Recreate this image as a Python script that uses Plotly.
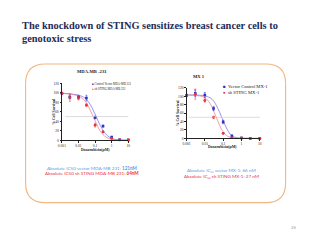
import plotly.graph_objects as go

# ---------------- data ----------------
dose = [0.001, 0.003, 0.01, 0.03, 0.1, 0.3, 1, 3, 10]

# MDA-MB-231
mda_ctrl = [99, 91, 91, 89, 48, 30, 7, 1.5, 1]
mda_ctrl_err = [2, 4, 4, 6, 3, 2, 1, 1, 0.5]
mda_sh = [99, 90, 89, 74, 32, 18, 4, 1, 1]
mda_sh_err = [2, 8, 4, 3, 4, 2, 1, 0.5, 0.5]

# fitted curves
curve_dose = [0.001, 0.002, 0.005, 0.01, 0.02, 0.03, 0.05, 0.08, 0.1, 0.15, 0.2, 0.3, 0.5, 1, 2, 3, 10]
mda_ctrl_fit = [99, 98.5, 97, 95, 91, 86, 76, 62, 55, 41, 32, 21, 11, 4, 1.5, 1, 0.5]
mda_sh_fit = [99, 98, 96, 93, 86, 79, 64, 48, 41, 28, 20, 12, 6, 2, 1, 0.5, 0.3]

# MX-1
mx_ctrl = [102, 107, 103, 71, 39, 6, 1, 0, 0]
mx_ctrl_err = [3, 8, 6, 5, 4, 2, 1, 0.5, 0.5]
mx_sh = [102, 105, 90, 50, 12, 2, 1, 0, 0]
mx_sh_err = [3, 12, 4, 3, 2, 1, 0.5, 0.5, 0.5]

mx_ctrl_fit = [103, 103, 102.5, 101, 96, 89, 72, 52, 42, 25, 15, 6, 2, 0.5, 0.2, 0, 0]
mx_sh_fit = [103, 102.5, 101, 97, 82, 65, 42, 22, 16, 7, 4, 1.5, 0.5, 0.2, 0, 0, 0]

half_level = 50

x_ticks = [0.001, 0.01, 0.1, 1, 10]
x_tick_text = ["0.001", "0.01", "0.1", "1", "10"]
y_ticks = [0, 20, 40, 60, 80, 100, 120]

BLUE = "#2e2ec8"
RED = "#e8323a"
BLUE_LINE = "rgba(110,110,235,0.9)"
RED_LINE = "rgba(240,120,140,0.9)"
SERIF = "Liberation Serif, Times New Roman, serif"

fig = go.Figure()

def add_set(xa, ya, ctrl, ctrl_err, sh, sh_err, ctrl_fit, sh_fit):
    fig.add_trace(go.Scatter(x=curve_dose, y=ctrl_fit, mode="lines", line=dict(color=BLUE_LINE, width=0.8, shape="spline"),
                             xaxis=xa, yaxis=ya, showlegend=False, hoverinfo="skip"))
    fig.add_trace(go.Scatter(x=curve_dose, y=sh_fit, mode="lines", line=dict(color=RED_LINE, width=0.8, shape="spline"),
                             xaxis=xa, yaxis=ya, showlegend=False, hoverinfo="skip"))
    fig.add_trace(go.Scatter(x=dose, y=ctrl, mode="markers", marker=dict(color=BLUE, size=2.6, symbol="square"),
                             error_y=dict(type="data", array=ctrl_err, color=BLUE, thickness=0.5, width=1),
                             xaxis=xa, yaxis=ya, showlegend=False, cliponaxis=False))
    fig.add_trace(go.Scatter(x=dose, y=sh, mode="markers", marker=dict(color=RED, size=2.8),
                             error_y=dict(type="data", array=sh_err, color=RED, thickness=0.5, width=1),
                             xaxis=xa, yaxis=ya, showlegend=False, cliponaxis=False))

add_set("x", "y", mda_ctrl, mda_ctrl_err, mda_sh, mda_sh_err, mda_ctrl_fit, mda_sh_fit)
add_set("x2", "y2", mx_ctrl, mx_ctrl_err, mx_sh, mx_sh_err, mx_ctrl_fit, mx_sh_fit)

W, H = 320, 240
def px(x): return x / W
def py(y): return 1 - y / H

axis_common = dict(showgrid=False, zeroline=False, showline=True, linecolor="#222", linewidth=0.6,
                   ticks="outside", ticklen=1.5, tickwidth=0.5, tickcolor="#222")
tickfont = dict(family=SERIF, size=3.6, color="#222")

fig.update_layout(
    width=W, height=H, margin=dict(l=0, r=0, t=0, b=0),
    paper_bgcolor="white", plot_bgcolor="white", showlegend=False,
    xaxis=dict(domain=[px(59), px(126.7)], type="log", range=[-3, 1], tickvals=x_ticks, ticktext=x_tick_text,
               tickfont=tickfont, anchor="y", **axis_common),
    yaxis=dict(domain=[py(140.7), py(82.7)], range=[0, 120], tickvals=y_ticks, tickfont=tickfont,
               anchor="x", **axis_common),
    xaxis2=dict(domain=[px(186), px(260.7)], type="log", range=[-3, 1], tickvals=x_ticks, ticktext=x_tick_text,
                tickfont=tickfont, anchor="y2", **axis_common),
    yaxis2=dict(domain=[py(138.7), py(87.3)], range=[0, 120], tickvals=y_ticks, tickfont=tickfont,
                anchor="x2", **axis_common),
)

shapes = [
    dict(type="line", xref="x domain", yref="y", x0=0.05, x1=1.0, y0=half_level, y1=half_level,
         line=dict(color="#c8c8c8", width=0.6)),
    dict(type="line", xref="x2 domain", yref="y2", x0=0.03, x1=1.0, y0=half_level, y1=half_level,
         line=dict(color="#c8c8c8", width=0.6)),
]
# rounded orange frame, built from straight edges and corner arcs
FR = dict(color="#f2b680", width=1.1)
L, R, B, T = px(22), px(287), py(204), py(63)
rx, ry = 20 / W, 20 / H
def f(v): return f"{v:.5f}"
edges = [
    (L + rx, T, R - rx, T), (L + rx, B, R - rx, B),
    (L, B + ry, L, T - ry), (R, B + ry, R, T - ry),
]
for ax0, ay0, ax1, ay1 in edges:
    shapes.append(dict(type="line", xref="paper", yref="paper", x0=ax0, y0=ay0, x1=ax1, y1=ay1, line=FR))
corners = [
    (L + rx, T, L, T, L, T - ry), (R - rx, T, R, T, R, T - ry),
    (L + rx, B, L, B, L, B + ry), (R - rx, B, R, B, R, B + ry),
]
for sx, sy, cx, cy, ex, ey in corners:
    shapes.append(dict(type="path", xref="paper", yref="paper",
                       path=f"M{f(sx)},{f(sy)} Q{f(cx)},{f(cy)} {f(ex)},{f(ey)}", line=FR))
fig.update_layout(shapes=shapes)

ann = []
def A(x, y, text, size, color="#222", family=SERIF, xanchor="center", angle=0):
    ann.append(dict(x=px(x), y=py(y), xref="paper", yref="paper", text=text, showarrow=False,
                    font=dict(size=size, color=color, family=family), xanchor=xanchor, yanchor="middle",
                    textangle=angle))

NAVY = "#1f2c55"
A(16, 24, "<b>The knockdown of STING sensitizes breast cancer cells to</b>", 10.4, NAVY, xanchor="left")
A(16, 37, "<b>genotoxic stress</b>", 10.4, NAVY, xanchor="left")

A(90, 71, "<b>MDA-MB -231</b>", 4.6)
A(199, 76, "<b>MX 1</b>", 4.6)

A(93, 150, "<b>Doxorubicin(µM)</b>", 3.8)
A(223, 147, "<b>Doxorubicin(µM)</b>", 3.8)
A(51.5, 112, "<b>% Cell Survival</b>", 3.8, angle=-90)
A(177.5, 113, "<b>% Cell Survival</b>", 3.8, angle=-90)

A(87.8, 83.8, f"<span style='color:{BLUE}'>■</span> Control Vector MDA-MB 231", 3.0, xanchor="left")
A(87.8, 88.0, f"<span style='color:{RED}'>●</span> sh STING MDA-MB 231", 3.0, xanchor="left")
A(221.5, 85.8, f"<span style='color:{BLUE}'>■</span>  Vector Control MX-1", 4.6, xanchor="left")
A(221.5, 91.8, f"<span style='color:{RED}'>●</span>  sh STING MX-1", 4.6, xanchor="left")

LB = "#5b9be0"
A(90, 169, "Absolute IC50 vector MDA-MB 231: <b>121nM</b>", 4.6, LB, "Lato")
A(90, 174, "Absolute IC50 sh STING MDA-MB 231: <b>64nM</b>", 4.6, RED, "Lato")
A(222, 171, "Absolute IC₅₀ vector MX-1: 66 nM", 4.6, LB, "Lato")
A(222, 176.5, "Absolute IC₅₀ sh STING MX-1: 27 nM", 4.6, RED, "Lato")

A(296, 229, "25", 4.5, "#999", "Lato")
fig.update_layout(annotations=ann)

fig.write_html("out.html")
